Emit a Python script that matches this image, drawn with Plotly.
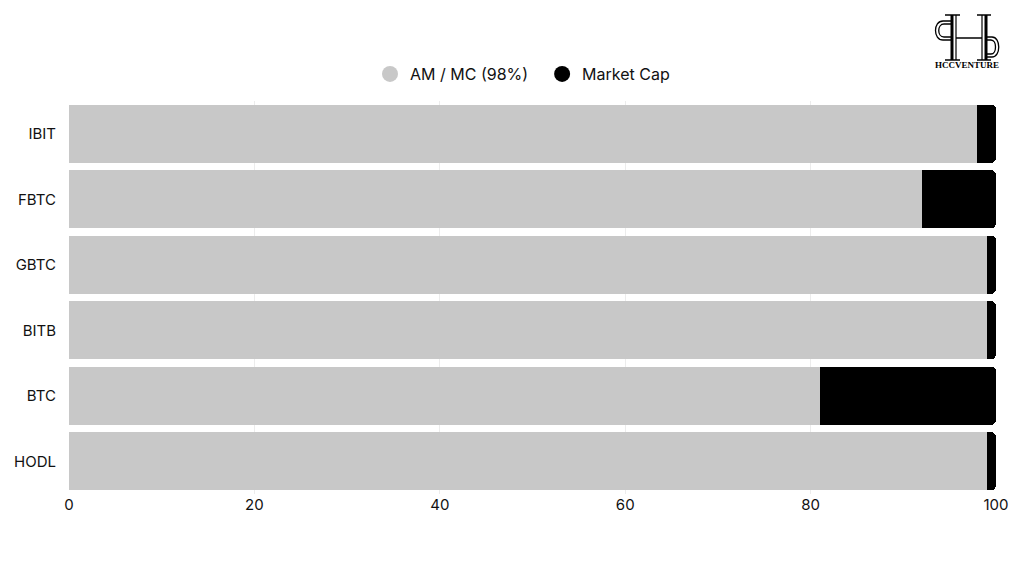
import plotly.graph_objects as go

categories = ["IBIT", "FBTC", "GBTC", "BITB", "BTC", "HODL"]
am_mc = [98, 92, 99, 99, 81, 99]
market_cap = [2, 8, 1, 1, 19, 1]
x_ticks = [0, 20, 40, 60, 80, 100]

GRAY = "#c8c8c8"
BLACK = "#000000"
FONT = "Inter"

ML, MR, MT, MB = 61, 36, 93, 82
W, H = 1024, 568
PW, PH = W - ML - MR, H - MT - MB
OX, OY = 8, 8   # page body offset


def px(x):
    return (x - OX - ML) / PW


def py(y):
    return (H - MB - (y - OY)) / PH


fig = go.Figure()
fig.add_trace(go.Bar(y=categories, x=am_mc, orientation="h", name="AM / MC (98%)",
                     marker=dict(color=GRAY, line=dict(width=0)), showlegend=False))
fig.add_trace(go.Bar(y=categories, x=market_cap, orientation="h", name="Market Cap",
                     marker=dict(color=BLACK, line=dict(width=0)), showlegend=False))
fig.add_trace(go.Scatter(x=[None], y=[None], mode="markers", name="AM / MC (98%)&nbsp;&nbsp;",
                         marker=dict(color=GRAY, size=16, symbol="circle")))
fig.add_trace(go.Scatter(x=[None], y=[None], mode="markers", name="Market Cap",
                         marker=dict(color=BLACK, size=16, symbol="circle")))

fig.update_layout(
    width=W, height=H,
    barmode="stack", bargap=0.11, barcornerradius=5,
    plot_bgcolor="white", paper_bgcolor="white",
    margin=dict(l=ML, r=MR, t=MT, b=MB),
    font=dict(family=FONT, size=15, color="#111111"),
    legend=dict(orientation="h", x=0.5 - 10 / PW, xanchor="center", y=py(74), yanchor="middle",
                font=dict(size=16), itemsizing="trace", itemwidth=30,
                traceorder="normal"),
    xaxis=dict(range=[0, 100], tickvals=x_ticks, showgrid=True, gridcolor="#ececec",
               zeroline=False, showline=False, ticks="", tickfont=dict(size=15),
               automargin=False),
    yaxis=dict(categoryorder="array", categoryarray=categories[::-1], showgrid=False,
               ticks="", ticklabelstandoff=12, tickfont=dict(size=15), automargin=False),
)

# logo (top right)
lines = [
    (952, 15, 952, 60, 3), (956, 15, 956, 60, 1.2),
    (982, 15, 982, 60, 1.2), (986, 15, 986, 60, 3),
    (945, 15, 960, 15, 1.5), (977, 15, 991, 15, 1.5),
    (945, 60, 960, 60, 1.5), (977, 60, 991, 60, 1.5),
    (956, 38, 982, 38, 1.5),
]
for x0, y0, x1, y1, w in lines:
    fig.add_shape(type="line", xref="paper", yref="paper",
                  x0=px(x0), x1=px(x1), y0=py(y0), y1=py(y1),
                  line=dict(color=BLACK, width=w))

left_loop = (f"M {px(952)},{py(21)} L {px(943)},{py(21)} "
             f"C {px(933)},{py(21)} {px(933)},{py(40)} {px(943)},{py(40)} L {px(952)},{py(40)}")
left_loop2 = (f"M {px(952)},{py(24)} L {px(944)},{py(24)} "
              f"C {px(937)},{py(24)} {px(937)},{py(37)} {px(944)},{py(37)} L {px(952)},{py(37)}")
right_loop = (f"M {px(986)},{py(37)} L {px(992)},{py(37)} "
              f"C {px(1001)},{py(37)} {px(1001)},{py(57)} {px(992)},{py(57)} L {px(986)},{py(57)}")
right_loop2 = (f"M {px(986)},{py(40)} L {px(991)},{py(40)} "
               f"C {px(997)},{py(40)} {px(997)},{py(54)} {px(991)},{py(54)} L {px(986)},{py(54)}")
for p in (left_loop, left_loop2, right_loop, right_loop2):
    fig.add_shape(type="path", xref="paper", yref="paper", path=p,
                  line=dict(color=BLACK, width=1.3))

fig.add_annotation(text="<b>HCCVENTURE</b>", xref="paper", yref="paper",
                   x=px(967), y=py(65), showarrow=False, xanchor="center", yanchor="middle",
                   font=dict(family="Liberation Serif", size=9, color=BLACK))

fig.write_html("out.html")
